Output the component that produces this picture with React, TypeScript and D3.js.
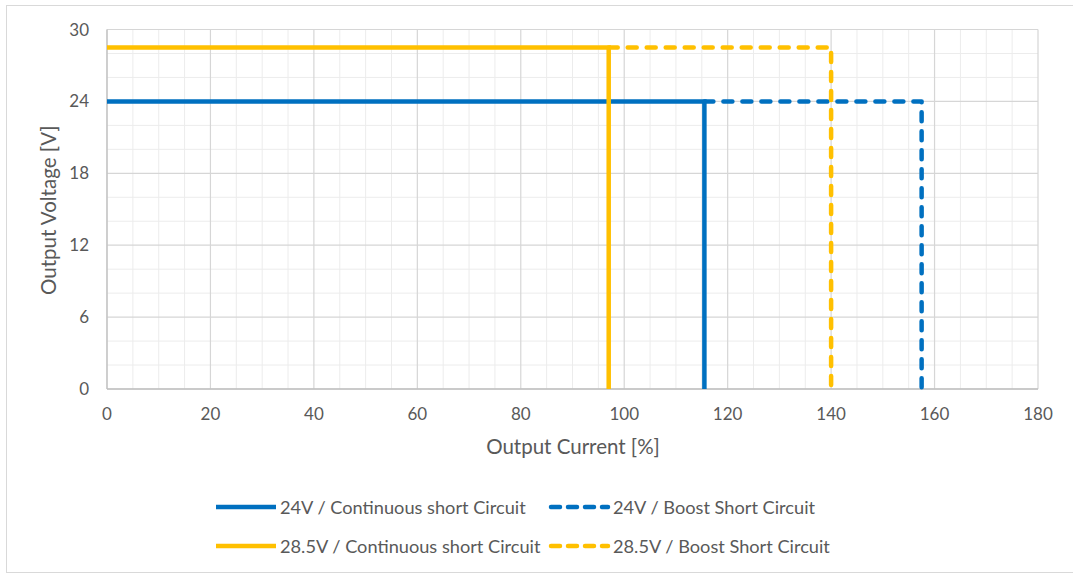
import React from "react";
import * as d3 from "d3";

const xTicks = [0, 20, 40, 60, 80, 100, 120, 140, 160, 180];
const yTicks = [0, 6, 12, 18, 24, 30];
const xMinorStep = 5;
const yMinorStep = 2;

const seriesNames = [
  "24V / Continuous short Circuit",
  "24V / Boost Short Circuit",
  "28.5V / Continuous short Circuit",
  "28.5V / Boost Short Circuit",
];
const seriesColors = ["#0070C0", "#0070C0", "#FFC000", "#FFC000"];
const seriesDashed = [false, true, false, true];
const series24Cont: [number, number][] = [[0, 24], [115.5, 24], [115.5, 0]];
const series24Boost: [number, number][] = [[115.5, 24], [157.5, 24], [157.5, 0]];
const series285Cont: [number, number][] = [[0, 28.5], [97, 28.5], [97, 0]];
const series285Boost: [number, number][] = [[97, 28.5], [140, 28.5], [140, 0]];
const seriesData = [series24Cont, series24Boost, series285Cont, series285Boost];

const W = 1073;
const H = 575;
const FONT = "Lato, 'Open Sans', sans-serif";
const TEXT = "#595959";

export default function App() {
  const x = d3.scaleLinear().domain([0, 180]).range([107, 1038]);
  const y = d3.scaleLinear().domain([0, 30]).range([389, 29.5]);
  const line = d3
    .line<[number, number]>()
    .x((d) => x(d[0]))
    .y((d) => y(d[1]));

  const xMinor = d3.range(0, 180 + 0.001, xMinorStep).filter((v) => v % 20 !== 0);
  const yMinor = d3.range(0, 30 + 0.001, yMinorStep).filter((v) => v % 6 !== 0);

  const legendRows = [
    { y: 507, items: [0, 1], xs: [216, 549] },
    { y: 546, items: [2, 3], xs: [216, 549] },
  ];

  return (
    <svg
      width={W}
      height={H}
      style={{ position: "absolute", left: 0, top: 0, background: "#fff" }}
      fontFamily={FONT}
    >
      <rect x={0} y={0} width={W} height={H} fill="#fff" />
      <rect x={6.5} y={5.5} width={W + 10} height={567} fill="none" stroke="#d9d9d9" strokeWidth={1} />

      {/* minor grid */}
      <g stroke="#ececec" strokeWidth={1}>
        {xMinor.map((v) => (
          <line key={"xm" + v} x1={x(v)} x2={x(v)} y1={y(30)} y2={y(0)} />
        ))}
        {yMinor.map((v) => (
          <line key={"ym" + v} x1={x(0)} x2={x(180)} y1={y(v)} y2={y(v)} />
        ))}
      </g>
      {/* major grid */}
      <g stroke="#d6d6d6" strokeWidth={1.2}>
        {xTicks.map((v) => (
          <line key={"xM" + v} x1={x(v)} x2={x(v)} y1={y(30)} y2={y(0)} />
        ))}
        {yTicks.map((v) => (
          <line key={"yM" + v} x1={x(0)} x2={x(180)} y1={y(v)} y2={y(v)} />
        ))}
      </g>
      <line x1={x(0)} x2={x(180)} y1={y(0)} y2={y(0)} stroke="#bfbfbf" strokeWidth={1.5} />
      <line x1={x(0)} x2={x(0)} y1={y(30)} y2={y(0)} stroke="#bfbfbf" strokeWidth={1.2} />

      {/* series */}
      {seriesData.map((d, i) => (
        <path
          key={seriesNames[i]}
          d={line(d) || ""}
          fill="none"
          stroke={seriesColors[i]}
          strokeWidth={4.5}
          strokeLinecap={seriesDashed[i] ? "round" : "butt"}
          strokeLinejoin={seriesDashed[i] ? "round" : "miter"}
          strokeDasharray={seriesDashed[i] ? "9 10" : undefined}
        />
      ))}

      {/* tick labels */}
      <g fill={TEXT} fontSize={17}>
        {xTicks.map((v) => (
          <text key={"xt" + v} x={x(v)} y={420} textAnchor="middle">
            {v}
          </text>
        ))}
        {yTicks.map((v) => (
          <text key={"yt" + v} x={89} y={y(v) + 6} textAnchor="end">
            {v}
          </text>
        ))}
      </g>

      {/* axis titles */}
      <text x={573} y={454} textAnchor="middle" fill={TEXT} fontSize={20.5}>
        Output Current [%]
      </text>
      <text
        transform={`translate(56,${y(15) + 1}) rotate(-90)`}
        textAnchor="middle"
        fill={TEXT}
        fontSize={20.5}
      >
        Output Voltage [V]
      </text>

      {/* legend */}
      {legendRows.map((row) =>
        row.items.map((si, k) => {
          const lx = row.xs[k];
          return (
            <g key={"lg" + si}>
              <line
                x1={seriesDashed[si] ? lx + 2 : lx}
                x2={seriesDashed[si] ? lx + 59 : lx + 60}
                y1={row.y}
                y2={row.y}
                stroke={seriesColors[si]}
                strokeWidth={4.5}
                strokeLinecap={seriesDashed[si] ? "round" : "butt"}
                strokeDasharray={seriesDashed[si] ? "9 8" : undefined}
              />
              <text x={lx + 64} y={row.y + 6.5} fill={TEXT} fontSize={18.2}>
                {seriesNames[si]}
              </text>
            </g>
          );
        })
      )}
    </svg>
  );
}
